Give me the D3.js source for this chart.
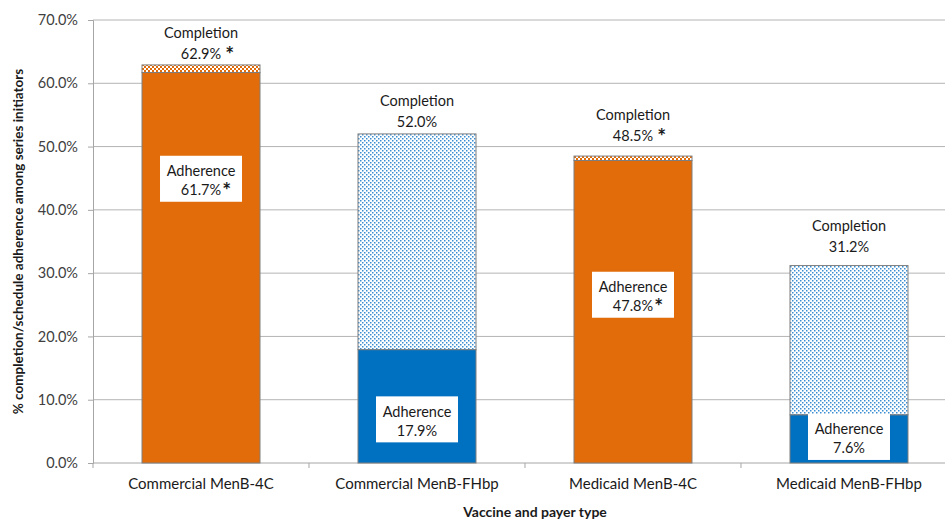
<!DOCTYPE html>
<html>
<head>
<meta charset="utf-8">
<script src="https://cdn.jsdelivr.net/npm/d3@7"></script>
<style>
  html, body { margin: 0; padding: 0; background: #fff; }
  svg { display: block; font-family: Lato, "Open Sans", sans-serif; }
</style>
</head>
<body>
<svg id="chart" width="945" height="521"></svg>
<script>
// Series completion and on-schedule adherence by vaccine and payer (%)
const categories = ["Commercial MenB-4C", "Commercial MenB-FHbp", "Medicaid MenB-4C", "Medicaid MenB-FHbp"];
const vaccineType = ["4C", "FHbp", "4C", "FHbp"];
const completion = [62.9, 52.0, 48.5, 31.2];
const adherence = [61.7, 17.9, 47.8, 7.6];
const completionStar = [true, false, true, false];
const adherenceStar = [true, false, true, false];
const yTicks = [0, 10, 20, 30, 40, 50, 60, 70];

// label placement tweaks (pixels)
const completionLabelOffset = [-32, -33, -42, -40];
const adherenceLabelShift = [-89, 13, -17, -2];

const colors = { "4C": "#E36C0A", "FHbp": "#0070C0" };
const svg = d3.select("#chart");

const plot = { left: 93, right: 957, top: 20, bottom: 463 };

const x = d3.scaleBand()
  .domain(categories)
  .range([plot.left, plot.right])
  .paddingInner(0.4537)
  .paddingOuter(0.2269);

const y = d3.scaleLinear().domain([0, 70]).range([plot.bottom, plot.top]);

// fill patterns for the completion-only part of each bar
const defs = svg.append("defs");
const checker = defs.append("pattern")
  .attr("id", "pat-4C").attr("patternUnits", "userSpaceOnUse")
  .attr("width", 4).attr("height", 4);
checker.append("rect").attr("width", 4).attr("height", 4).attr("fill", colors["4C"]);
checker.append("rect").attr("x", 0).attr("y", 0).attr("width", 2).attr("height", 2).attr("fill", "#fff");
checker.append("rect").attr("x", 2).attr("y", 2).attr("width", 2).attr("height", 2).attr("fill", "#fff");

const dots = defs.append("pattern")
  .attr("id", "pat-FHbp").attr("patternUnits", "userSpaceOnUse")
  .attr("width", 4).attr("height", 4);
dots.append("rect").attr("width", 4).attr("height", 4).attr("fill", "#fff");
dots.append("rect").attr("x", 0).attr("y", 0).attr("width", 1.5).attr("height", 1.5).attr("fill", "#3a8dd2");
dots.append("rect").attr("x", 2).attr("y", 2).attr("width", 1.5).attr("height", 1.5).attr("fill", "#3a8dd2");

// gridlines
svg.append("g")
  .selectAll("line")
  .data(yTicks.filter(t => t > 0))
  .join("line")
  .attr("x1", plot.left).attr("x2", plot.right)
  .attr("y1", d => y(d)).attr("y2", d => y(d))
  .attr("stroke", "#b4b4b4").attr("stroke-width", 1);

// y axis
const yAxis = svg.append("g")
  .attr("transform", `translate(${plot.left},0)`)
  .call(d3.axisLeft(y).tickValues(yTicks).tickSize(5).tickPadding(10)
    .tickFormat(d => d.toFixed(1) + "%"));
yAxis.selectAll("line, path").attr("stroke", "#a6a6a6");
yAxis.selectAll("text").attr("font-size", 14.5).attr("fill", "#404040")
  .attr("font-family", "Lato, sans-serif");

// x axis with category boundary ticks
const xAxisG = svg.append("g");
xAxisG.append("line")
  .attr("x1", plot.left).attr("x2", plot.right)
  .attr("y1", plot.bottom).attr("y2", plot.bottom)
  .attr("stroke", "#a6a6a6");
const step = x.step();
xAxisG.selectAll("line.tick")
  .data(d3.range(categories.length + 1))
  .join("line").attr("class", "tick")
  .attr("x1", i => plot.left + i * step).attr("x2", i => plot.left + i * step)
  .attr("y1", plot.bottom).attr("y2", plot.bottom + 5)
  .attr("stroke", "#a6a6a6");
xAxisG.selectAll("text")
  .data(categories)
  .join("text")
  .attr("x", d => x(d) + x.bandwidth() / 2)
  .attr("y", 489)
  .attr("text-anchor", "middle")
  .attr("font-size", 15).attr("fill", "#1a1a1a")
  .text(d => d);

// bars
const rows = categories.map((c, i) => ({
  cat: c, type: vaccineType[i], comp: completion[i], adh: adherence[i], i
}));

const bars = svg.append("g");
bars.selectAll("rect.comp")
  .data(rows).join("rect").attr("class", "comp")
  .attr("x", d => x(d.cat)).attr("width", x.bandwidth())
  .attr("y", d => y(d.comp)).attr("height", d => y(d.adh) - y(d.comp))
  .attr("fill", d => `url(#pat-${d.type})`)
  .attr("stroke", "#7f7f7f").attr("stroke-width", 1);
bars.selectAll("rect.adh")
  .data(rows).join("rect").attr("class", "adh")
  .attr("x", d => x(d.cat)).attr("width", x.bandwidth())
  .attr("y", d => y(d.adh)).attr("height", d => y(0) - y(d.adh))
  .attr("fill", d => colors[d.type])
  .attr("stroke", "#7f7f7f").attr("stroke-width", 1);

// completion labels above bars
const compLabels = svg.append("g").attr("font-size", 14.5).attr("fill", "#1a1a1a");
rows.forEach(d => {
  const cx = x(d.cat) + x.bandwidth() / 2;
  const top = y(d.comp) + completionLabelOffset[d.i];
  compLabels.append("text").attr("x", cx).attr("y", top)
    .attr("text-anchor", "middle").attr("dominant-baseline", "central")
    .text("Completion");
  const num = compLabels.append("text").attr("x", cx).attr("y", top + 21)
    .attr("text-anchor", "middle").attr("dominant-baseline", "central")
    .text(d.comp.toFixed(1) + "%");
  if (completionStar[d.i]) {
    const w = num.node().getComputedTextLength();
    compLabels.append("text").attr("x", cx + w / 2 + 4).attr("y", top + 21)
      .attr("dominant-baseline", "central")
      .attr("font-size", 21).attr("font-weight", "bold").text("*");
  }
});

// adherence labels inside bars
const adhLabels = svg.append("g").attr("font-size", 14.5).attr("fill", "#1a1a1a");
rows.forEach(d => {
  const cx = x(d.cat) + x.bandwidth() / 2;
  const cy = (y(0) + y(d.adh)) / 2 + adherenceLabelShift[d.i];
  adhLabels.append("rect")
    .attr("x", cx - 41).attr("y", cy - 23).attr("width", 82).attr("height", 46)
    .attr("fill", "#fff");
  adhLabels.append("text").attr("x", cx).attr("y", cy - 8)
    .attr("text-anchor", "middle").attr("dominant-baseline", "central")
    .text("Adherence");
  const num = adhLabels.append("text").attr("x", cx).attr("y", cy + 11)
    .attr("text-anchor", "middle").attr("dominant-baseline", "central")
    .text(d.adh.toFixed(1) + "%");
  if (adherenceStar[d.i]) {
    const w = num.node().getComputedTextLength();
    adhLabels.append("text").attr("x", cx + w / 2 + 1).attr("y", cy + 11)
      .attr("dominant-baseline", "central")
      .attr("font-size", 21).attr("font-weight", "bold").text("*");
  }
});

// axis titles
svg.append("text")
  .attr("x", 535).attr("y", 511)
  .attr("text-anchor", "middle").attr("dominant-baseline", "central")
  .attr("font-size", 14).attr("font-weight", "bold").attr("fill", "#1a1a1a")
  .text("Vaccine and payer type");
svg.append("text")
  .attr("transform", `translate(18,${(plot.top + plot.bottom) / 2}) rotate(-90)`)
  .attr("text-anchor", "middle").attr("dominant-baseline", "central")
  .attr("font-size", 13.5).attr("font-weight", "bold").attr("fill", "#1a1a1a")
  .text("% completion/schedule adherence among series initiators");
</script>
</body>
</html>
